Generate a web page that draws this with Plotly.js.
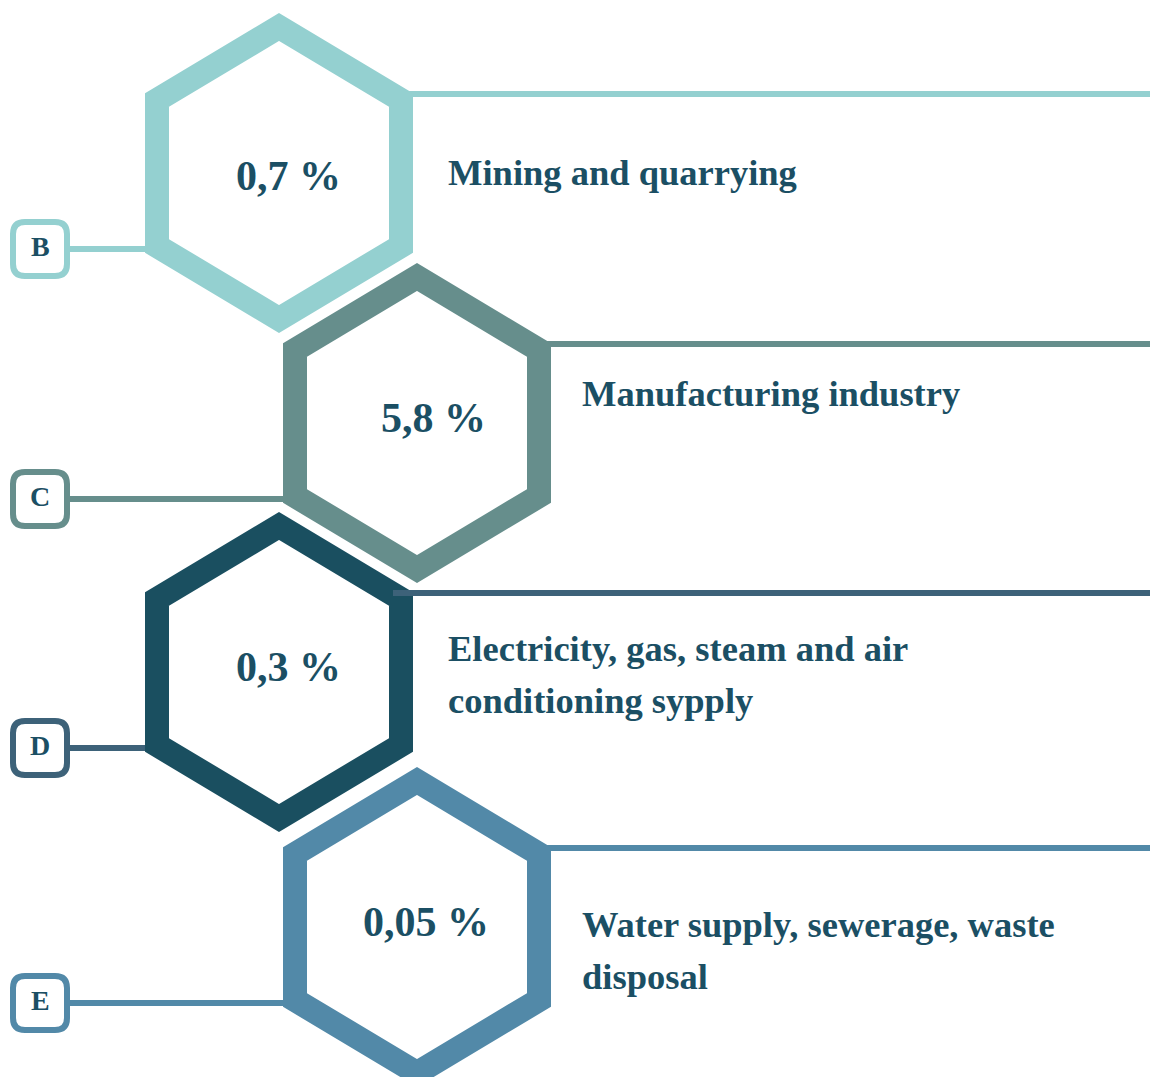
<!DOCTYPE html>
<html>
<head>
<meta charset="utf-8">
<script src="https://cdn.plot.ly/plotly-3.0.1.min.js"></script>
<style>
  html, body { margin: 0; padding: 0; background: #ffffff; }
  #chart { width: 1150px; height: 1077px; }
</style>
</head>
<body>
<div id="chart"></div>
<script>
// ---- data ----
var codes = ['B', 'C', 'D', 'E'];
var shares = [0.7, 5.8, 0.3, 0.05];
var sectors = [
  'Mining and quarrying',
  'Manufacturing industry',
  'Electricity, gas, steam and air<br>conditioning sypply',
  'Water supply, sewerage, waste<br>disposal'
];

// ---- styles ----
var hexColors = ['#94d0d0', '#668e8c', '#1a4f60', '#5289a8'];
var lineColors = ['#94d0d0', '#668e8c', '#3d6279', '#5289a8'];
var textColor = '#1b4f64';
var serif = 'Liberation Serif';

// ---- layout geometry ----
var W = 1150, H = 1077;
var centersX = [279, 417, 279, 417];
var centersY = [173, 423, 672, 927];
var labelDy = [-1, -30, -24, -3];
var pctDx = [9, 16, 9, 9];
var pctDy = [3, -5, -5, -5];
var hw = 122, hh = 146, hs = 73, sw = 24;

function fmt(v) { return String(v).replace('.', ',') + ' %'; }

var traces = [];
var shapes = [];
var annotations = [];

for (var i = 0; i < codes.length; i++) {
  var cx = centersX[i], cy = centersY[i];
  var cyLine = cy + 76;
  traces.push({
    x: [70, cx - hw], y: [cyLine, cyLine], mode: 'lines', type: 'scatter',
    line: { color: lineColors[i], width: 6 }, hoverinfo: 'skip', showlegend: false
  });
}
for (var i = 0; i < codes.length; i++) {
  var cx = centersX[i], cy = centersY[i];
  traces.push({
    x: [cx - hw, cx - hw, cx, cx + hw, cx + hw, cx, cx - hw, cx - hw],
    y: [cy, cy - hs, cy - hh, cy - hs, cy + hs, cy + hh, cy + hs, cy],
    mode: 'lines', type: 'scatter',
    line: { color: hexColors[i], width: sw }, hoverinfo: 'skip', showlegend: false
  });
}
for (var i = 0; i < codes.length; i++) {
  var cx = centersX[i], cy = centersY[i];
  var ty = cy - 79;
  traces.push({
    x: [cx + 114, W], y: [ty, ty], mode: 'lines', type: 'scatter',
    line: { color: lineColors[i], width: 6 }, hoverinfo: 'skip', showlegend: false
  });

  var by = cy + 76, x0 = 13, x1 = 67, y0 = by - 27, y1 = by + 27, r = 12;
  var p = 'M' + (x0 + r) + ',' + y0 + ' L' + (x1 - r) + ',' + y0 +
          ' Q' + x1 + ',' + y0 + ' ' + x1 + ',' + (y0 + r) +
          ' L' + x1 + ',' + (y1 - r) +
          ' Q' + x1 + ',' + y1 + ' ' + (x1 - r) + ',' + y1 +
          ' L' + (x0 + r) + ',' + y1 +
          ' Q' + x0 + ',' + y1 + ' ' + x0 + ',' + (y1 - r) +
          ' L' + x0 + ',' + (y0 + r) +
          ' Q' + x0 + ',' + y0 + ' ' + (x0 + r) + ',' + y0 + ' Z';
  shapes.push({
    type: 'path', path: p, xref: 'x', yref: 'y', layer: 'above',
    line: { color: lineColors[i], width: 6 }, fillcolor: '#ffffff'
  });

  annotations.push({
    x: 40, y: by - 3, xref: 'x', yref: 'y', text: '<b>' + codes[i] + '</b>', showarrow: false,
    xanchor: 'center', yanchor: 'middle',
    font: { family: serif, size: 28, color: textColor }
  });

  annotations.push({
    x: cx + pctDx[i], y: cy + pctDy[i], xref: 'x', yref: 'y', text: '<b>' + fmt(shares[i]) + '</b>', showarrow: false,
    xanchor: 'center', yanchor: 'middle',
    font: { family: serif, size: 42, color: textColor }
  });

  var lines = sectors[i].split('<br>');
  for (var k = 0; k < lines.length; k++) {
    annotations.push({
      x: cx + (i % 2 === 0 ? 167 : 163), y: cy + labelDy[i] + k * 52,
      xref: 'x', yref: 'y', text: '<b>' + lines[k] + '</b>', showarrow: false,
      xanchor: 'left', yanchor: 'middle',
      font: { family: serif, size: 36.5, color: textColor }
    });
  }
}

var layout = {
  width: W, height: H,
  margin: { l: 0, r: 0, t: 0, b: 0, pad: 0 },
  paper_bgcolor: '#ffffff', plot_bgcolor: '#ffffff',
  showlegend: false,
  xaxis: { range: [0, W], visible: false, fixedrange: true },
  yaxis: { range: [H, 0], visible: false, fixedrange: true },
  shapes: shapes,
  annotations: annotations
};

Plotly.newPlot('chart', traces, layout, { displayModeBar: false, staticPlot: true });
</script>
</body>
</html>
